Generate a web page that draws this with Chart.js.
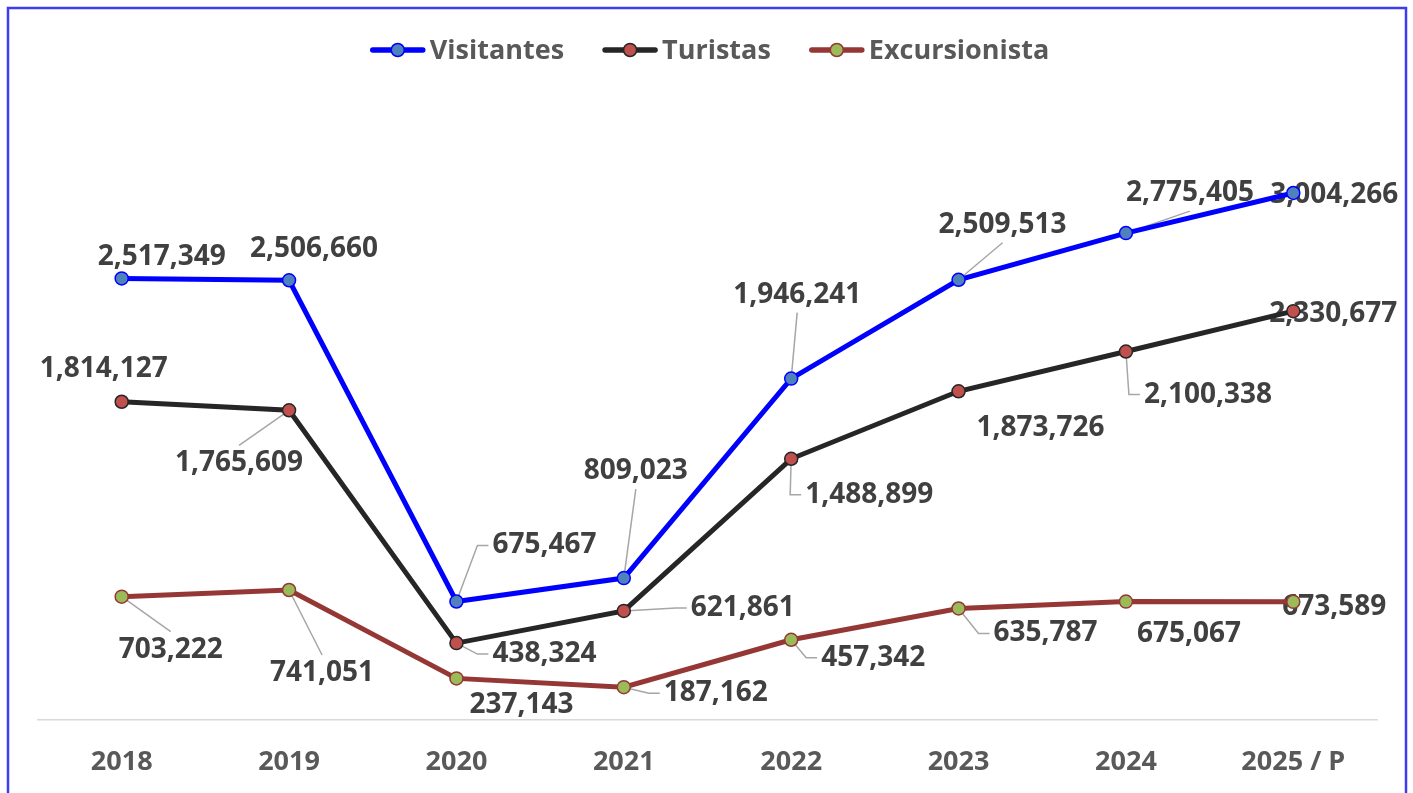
<!DOCTYPE html>
<html lang="es">
<head>
    <meta charset="UTF-8">
    <title>Visitantes, Turistas y Excursionistas</title>
    <script src="https://cdn.jsdelivr.net/npm/chart.js"></script>
    <style>
        html, body { margin: 0; padding: 0; background: #fff; overflow: hidden; }
    </style>
</head>
<body>
    <canvas id="visitChart" width="1413" height="793"></canvas>

    <script>
        // data
        var years = ['2018', '2019', '2020', '2021', '2022', '2023', '2024', '2025 / P'];
        var visitantes = [2517349, 2506660, 675467, 809023, 1946241, 2509513, 2775405, 3004266];
        var turistas = [1814127, 1765609, 438324, 621861, 1488899, 1873726, 2100338, 2330677];
        var excursionistas = [703222, 741051, 237143, 187162, 457342, 635787, 675067, 673589];

        // where each value label sits relative to its point (px), and whether a leader line is drawn
        var visLabelPos = [[40, -21], [25, -31], [88, -56], [12, -107], [6, -84], [44, -55], [64, -40], [41, 2]];
        var turLabelPos = [[-18, -33], [-50, 53], [88, 11], [119, -3], [78, 36], [82, 37], [82, 43], [40, 3]];
        var excLabelPos = [[49, 53], [33, 83], [65, 27], [92, 6], [82, 18], [87, 25], [63, 32], [41, 5]];
        var visLeader = [0, 0, 1, 1, 1, 1, 1, 0];
        var turLeader = [0, 1, 1, 1, 1, 0, 1, 0];
        var excLeader = [1, 1, 0, 1, 1, 1, 0, 0];

        var FONT = '"Open Sans", "Noto Sans", sans-serif';

        // frame around the whole chart
        var framePlugin = {
            id: 'frame',
            afterDraw: function (chart) {
                var ctx = chart.ctx;
                ctx.save();
                ctx.strokeStyle = '#3c3cf0';
                ctx.lineWidth = 2.5;
                ctx.strokeRect(8, 8, 1398, 830);
                ctx.restore();
            }
        };

        // legend: line + marker + text, centred on top
        var legendPlugin = {
            id: 'lineLegend',
            afterDraw: function (chart) {
                var ctx = chart.ctx;
                var sets = chart.data.datasets;
                var lineW = 54, gap = 5, between = 39, y = 50;
                ctx.save();
                ctx.font = 'bold 27px ' + FONT;
                var total = 0;
                sets.forEach(function (ds, i) {
                    total += lineW + gap + ctx.measureText(ds.label).width;
                    if (i < sets.length - 1) total += between;
                });
                var x = 710 - total / 2;
                sets.forEach(function (ds) {
                    ctx.strokeStyle = ds.borderColor;
                    ctx.lineWidth = 5.5;
                    ctx.lineCap = 'round';
                    ctx.beginPath();
                    ctx.moveTo(x + 2, y);
                    ctx.lineTo(x + lineW - 2, y);
                    ctx.stroke();
                    ctx.beginPath();
                    ctx.arc(x + lineW / 2, y, 6.5, 0, Math.PI * 2);
                    ctx.fillStyle = ds.pointBackgroundColor;
                    ctx.fill();
                    ctx.lineWidth = 1.5;
                    ctx.strokeStyle = ds.pointBorderColor;
                    ctx.stroke();
                    x += lineW + gap;
                    ctx.fillStyle = '#595959';
                    ctx.textAlign = 'left';
                    ctx.textBaseline = 'middle';
                    ctx.fillText(ds.label, x, y + 1);
                    x += ctx.measureText(ds.label).width + between;
                });
                ctx.restore();
            }
        };

        // value labels with leader lines, drawn under the lines and markers
        var valueLabelPlugin = {
            id: 'valueLabels',
            beforeDatasetsDraw: function (chart) {
                var ctx = chart.ctx;
                ctx.save();
                ctx.font = 'bold 28px ' + FONT;
                ctx.textAlign = 'center';
                ctx.textBaseline = 'middle';
                chart.data.datasets.forEach(function (ds, i) {
                    var meta = chart.getDatasetMeta(i);
                    meta.data.forEach(function (pt, j) {
                        var off = ds.labelPos[j];
                        var cx = pt.x + off[0], cy = pt.y + off[1];
                        var text = ds.data[j].toLocaleString('en-US');
                        var halfW = ctx.measureText(text).width / 2 + 4;
                        var halfH = 18;
                        if (ds.leader[j]) {
                            ctx.strokeStyle = '#a6a6a6';
                            ctx.lineWidth = 1.5;
                            ctx.beginPath();
                            ctx.moveTo(pt.x, pt.y);
                            if (pt.x >= cx - halfW && pt.x <= cx + halfW) {
                                ctx.lineTo(cx, pt.y < cy ? cy - halfH : cy + halfH);
                            } else {
                                var edge = pt.x < cx ? cx - halfW : cx + halfW;
                                var bend = pt.x < cx ? edge - 11 : edge + 11;
                                ctx.lineTo(bend, cy);
                                ctx.lineTo(edge, cy);
                            }
                            ctx.stroke();
                        }
                        ctx.fillStyle = '#404040';
                        ctx.fillText(text, cx, cy);
                    });
                });
                ctx.restore();
            }
        };

        var ctx = document.getElementById('visitChart').getContext('2d');
        var visitChart = new Chart(ctx, {
            type: 'line',
            data: {
                labels: years,
                datasets: [{
                    label: 'Visitantes',
                    data: visitantes,
                    borderColor: '#0000ff',
                    pointBackgroundColor: '#4f81bd',
                    pointBorderColor: '#0000ff',
                    labelPos: visLabelPos,
                    leader: visLeader
                }, {
                    label: 'Turistas',
                    data: turistas,
                    borderColor: '#262626',
                    pointBackgroundColor: '#c0504d',
                    pointBorderColor: '#262626',
                    labelPos: turLabelPos,
                    leader: turLeader
                }, {
                    label: 'Excursionista',
                    data: excursionistas,
                    borderColor: '#953735',
                    pointBackgroundColor: '#9bbb59',
                    pointBorderColor: '#953735',
                    labelPos: excLabelPos,
                    leader: excLeader
                }]
            },
            options: {
                responsive: false,
                animation: false,
                layout: { padding: { top: 106, left: 38, right: 36, bottom: 14 } },
                elements: {
                    line: { borderWidth: 5, tension: 0, fill: false },
                    point: { radius: 6.5, borderWidth: 1.5, hoverRadius: 6.5 }
                },
                plugins: {
                    legend: { display: false },
                    tooltip: { enabled: false }
                },
                scales: {
                    x: {
                        offset: true,
                        grid: { display: false, drawTicks: false },
                        border: { display: true, color: '#d9d9d9', width: 1.5 },
                        ticks: {
                            color: '#595959',
                            font: { family: FONT, weight: 'bold', size: 27 },
                            padding: 26,
                            maxRotation: 0,
                            autoSkip: false
                        },
                        afterFit: function (scale) { scale.height = 59; }
                    },
                    y: { display: false, min: 0, max: 3500000 }
                }
            },
            plugins: [valueLabelPlugin, legendPlugin, framePlugin]
        });
    </script>
</body>
</html>
